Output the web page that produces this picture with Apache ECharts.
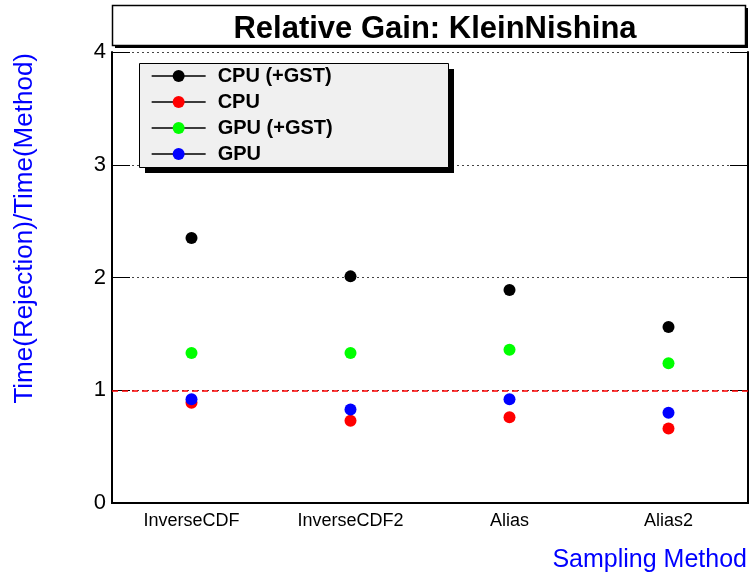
<!DOCTYPE html>
<html><head><meta charset="utf-8">
<script src="https://cdn.jsdelivr.net/npm/echarts@6/dist/echarts.min.js"></script>
<style>html,body{margin:0;padding:0;background:#fff}#c{width:749px;height:574px}</style>
</head><body><div id="c"></div>
<script>
const categories = ['InverseCDF', 'InverseCDF2', 'Alias', 'Alias2'];
const cpuGst = [2.35, 2.01, 1.89, 1.56];
const cpu = [0.89, 0.73, 0.76, 0.66];
const gpuGst = [1.33, 1.33, 1.36, 1.24];
const gpu = [0.92, 0.83, 0.92, 0.80];
const yTicks = [0, 1, 2, 3, 4];
const refValue = 1;

const FONT = 'Liberation Sans, Arial, sans-serif';
const chart = echarts.init(document.getElementById('c'), null, {renderer: 'canvas'});

function mk(name, data, color, extra) {
  return Object.assign({
    name: name, type: 'line', data: data,
    symbol: 'circle', symbolSize: 12, showSymbol: true,
    lineStyle: {width: 0, opacity: 0},
    itemStyle: {color: color},
    emphasis: {disabled: true},
    z: 5
  }, extra || {});
}

chart.setOption({
  animation: false,
  backgroundColor: '#fff',
  title: {
    text: 'Relative Gain: KleinNishina',
    left: 430, top: 9, textAlign: 'center',
    textStyle: {fontFamily: FONT, fontWeight: 'bold', fontSize: 31, color: '#000'}
  },
  grid: {left: 112, right: 1, top: 52, bottom: 71, show: false},
  legend: {
    orient: 'vertical', left: 151, top: 66, padding: 0,
    itemWidth: 54, itemHeight: 15, itemGap: 6,
    lineStyle: {color: '#000', width: 1.3, opacity: 1},
    textStyle: {fontFamily: FONT, fontWeight: 'bold', fontSize: 20, color: '#000', padding: [0, 0, 0, 7]},
    data: ['CPU (+GST)', 'CPU', 'GPU (+GST)', 'GPU'],
    selectedMode: false, z: 10
  },
  xAxis: [{
    type: 'category', data: categories, boundaryGap: true,
    axisLine: {lineStyle: {color: '#000', width: 2}},
    axisTick: {inside: true, length: 11, lineStyle: {color: '#000', width: 1}},
    axisLabel: {fontFamily: FONT, fontSize: 18, color: '#000', margin: 9}
  }, {
    type: 'category', data: categories, boundaryGap: true, position: 'top',
    axisLine: {lineStyle: {color: '#000', width: 2}},
    axisTick: {inside: true, length: 11, lineStyle: {color: '#000', width: 1}},
    axisLabel: {show: false}
  }],
  yAxis: [{
    type: 'value', min: 0, max: 4, interval: 1,
    axisLine: {show: true, lineStyle: {color: '#000', width: 2}},
    axisTick: {show: true, inside: true, length: 18, lineStyle: {color: '#000', width: 1}},
    axisLabel: {fontFamily: FONT, fontSize: 22, color: '#000', margin: 6,
      formatter: v => yTicks.includes(v) ? String(v) : ''},
    splitLine: {show: true, lineStyle: {color: '#444', width: 1, type: [2, 3]}}
  }, {
    type: 'value', min: 0, max: 4, interval: 1, position: 'right',
    axisLine: {show: true, lineStyle: {color: '#000', width: 2}},
    axisTick: {show: true, inside: true, length: 18, lineStyle: {color: '#000', width: 1}},
    axisLabel: {show: false}, splitLine: {show: false}
  }],
  graphic: [
    {type: 'rect', z: -1, shape: {x: 115, y: 8, width: 633, height: 40}, style: {fill: '#000'}},
    {type: 'rect', z: 0, shape: {x: 112.5, y: 5.5, width: 633, height: 40}, style: {fill: '#fff', stroke: '#000', lineWidth: 1.5}},
    {type: 'rect', z: 8, shape: {x: 145, y: 69, width: 309, height: 104}, style: {fill: '#000'}},
    {type: 'rect', z: 9, shape: {x: 139.5, y: 63.5, width: 309, height: 104}, style: {fill: '#f0f0f0', stroke: '#000', lineWidth: 1}},
    {type: 'text', z: 9, x: 25, y: 53, rotation: Math.PI / 2,
      style: {text: 'Time(Rejection)/Time(Method)', fontFamily: FONT, fontSize: 26, fill: '#0000ff', align: 'right', verticalAlign: 'middle'}},
    {type: 'text', z: 9, x: 747, y: 560,
      style: {text: 'Sampling Method', fontFamily: FONT, fontSize: 25, fill: '#0000ff', align: 'right', verticalAlign: 'middle'}}
  ],
  series: [
    mk('CPU (+GST)', cpuGst, '#000000', {
      markLine: {silent: true, symbol: 'none', label: {show: false},
        lineStyle: {color: '#ff0000', type: [6, 4], width: 1.5},
        data: [{yAxis: refValue}]}
    }),
    mk('CPU', cpu, '#ff0000'),
    mk('GPU (+GST)', gpuGst, '#00ff00'),
    mk('GPU', gpu, '#0000ff')
  ]
});
</script></body></html>
